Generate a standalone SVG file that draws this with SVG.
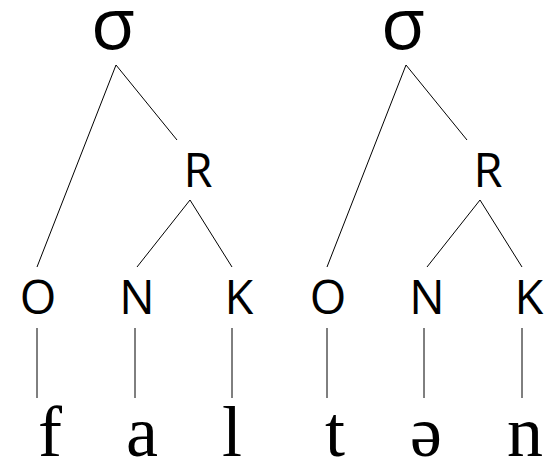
<svg xmlns="http://www.w3.org/2000/svg" width="555" height="458" viewBox="0 0 555 458">
<style>
.lab{font-family:"Open Sans","Noto Sans","DejaVu Sans",sans-serif;font-size:47px;fill:#000;text-anchor:middle}
.sig{font-size:72px}
.seg{font-family:"Liberation Serif","Times New Roman",serif;font-size:72px;fill:#000;text-anchor:middle}
.edge{stroke:#000;stroke-width:1;fill:none}
</style>
<rect width="555" height="458" fill="#fff"/>
<g id="connectors">
<line class="edge" x1="116" y1="65" x2="37" y2="267"/>
<line class="edge" x1="116" y1="65" x2="177" y2="140"/>
<line class="edge" x1="190" y1="200" x2="137" y2="267"/>
<line class="edge" x1="190" y1="200" x2="232" y2="267"/>
<line class="edge" x1="37" y1="328" x2="37" y2="398"/>
<line class="edge" x1="135" y1="328" x2="135" y2="398"/>
<line class="edge" x1="232" y1="328" x2="232" y2="398"/>
<line class="edge" x1="406" y1="65" x2="327" y2="267"/>
<line class="edge" x1="406" y1="65" x2="467" y2="140"/>
<line class="edge" x1="480" y1="200" x2="427" y2="267"/>
<line class="edge" x1="480" y1="200" x2="522" y2="267"/>
<line class="edge" x1="327" y1="328" x2="327" y2="398"/>
<line class="edge" x1="424" y1="328" x2="424" y2="398"/>
<line class="edge" x1="522" y1="328" x2="522" y2="398"/>
</g>
<g id="sigma1"><text class="lab sig" x="113" y="49">σ</text></g>
<g id="R1"><text class="lab" x="198" y="187">R</text></g>
<g id="O1"><text class="lab" x="38" y="314">O</text></g>
<g id="N1"><text class="lab" x="137" y="314">N</text></g>
<g id="K1"><text class="lab" x="239" y="314">K</text></g>
<g id="f"><text class="seg" x="50" y="456">f</text></g>
<g id="a"><text class="seg" x="142" y="456">a</text></g>
<g id="l"><text class="seg" x="232" y="456">l</text></g>
<g id="sigma2"><text class="lab sig" x="403" y="49">σ</text></g>
<g id="R2"><text class="lab" x="488" y="187">R</text></g>
<g id="O2"><text class="lab" x="328" y="314">O</text></g>
<g id="N2"><text class="lab" x="427" y="314">N</text></g>
<g id="K2"><text class="lab" x="529" y="314">K</text></g>
<g id="t"><text class="seg" x="335" y="456">t</text></g>
<g id="schwa"><text class="seg" x="426" y="456">ə</text></g>
<g id="n"><text class="seg" x="525" y="456">n</text></g>
</svg>
